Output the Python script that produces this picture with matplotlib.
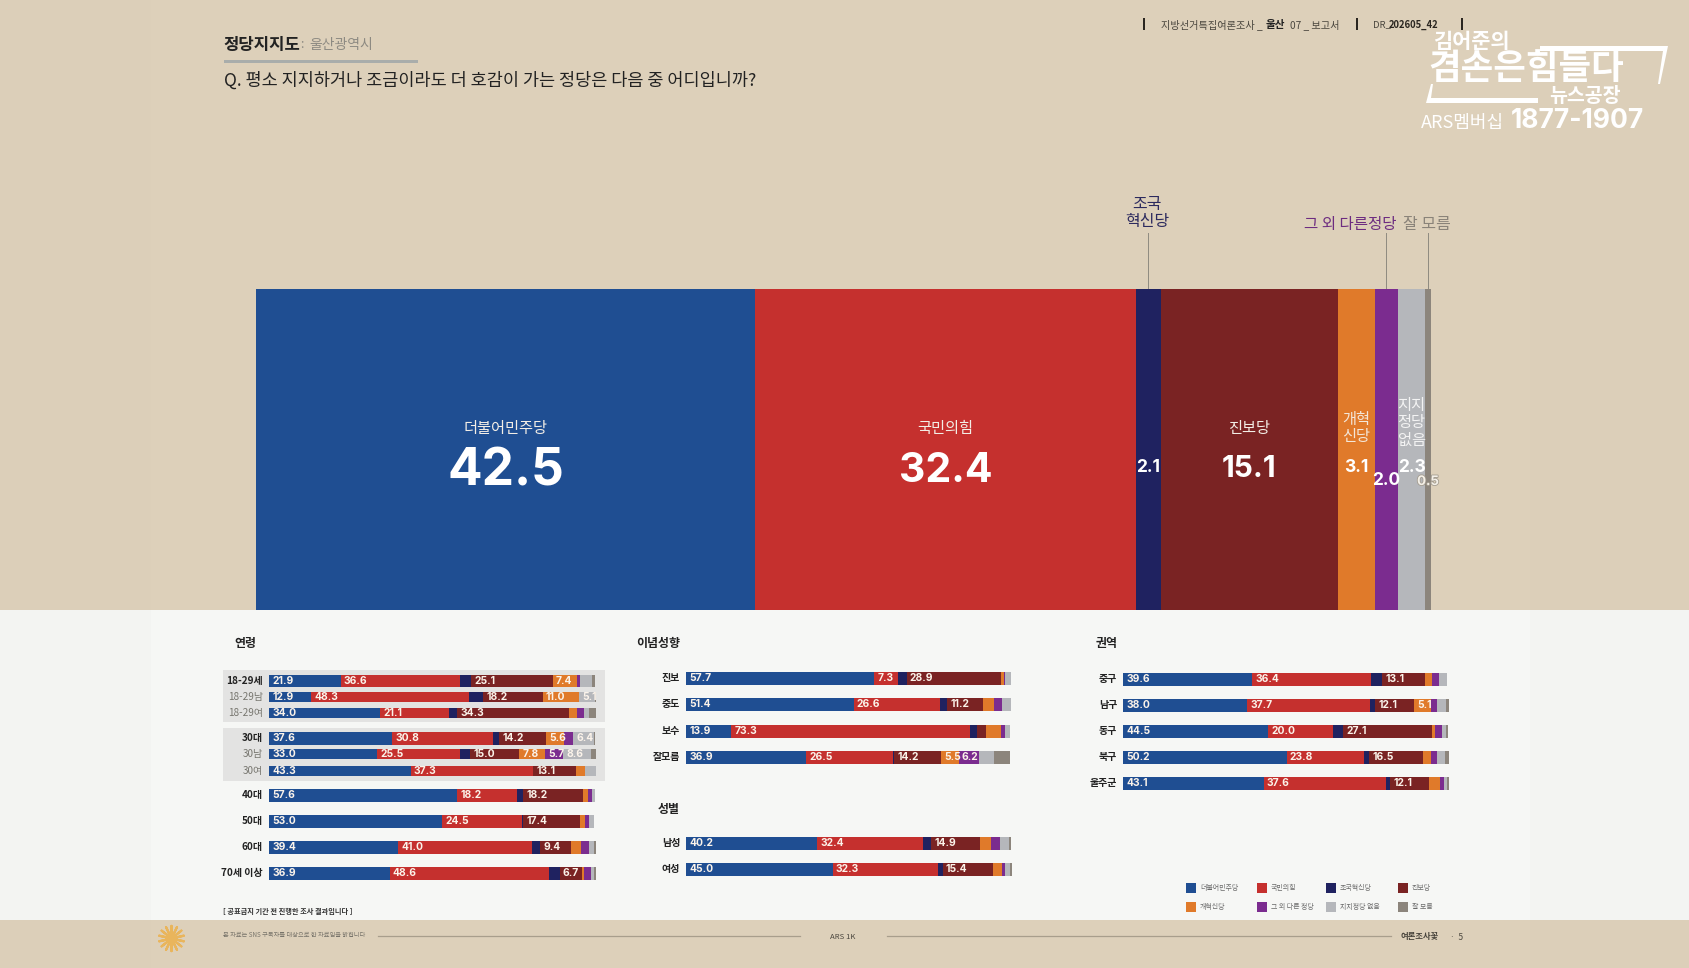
import matplotlib
matplotlib.use("Agg")
import matplotlib.pyplot as plt
import matplotlib.patheffects as pe
from matplotlib.patches import Rectangle, Polygon
import numpy as np

plt.rcParams['font.family'] = ['Noto Sans CJK KR', 'DejaVu Sans']

W, H = 1690, 968
NUM_FONT = ['Inter', 'DejaVu Sans']

parties = ["더불어민주당", "국민의힘", "조국혁신당", "진보당", "개혁신당", "그 외 다른 정당", "지지정당 없음", "잘 모름"]
colors = ["#1f4e92", "#c5302e", "#1f2260", "#7a2323", "#e07a2a", "#7b2c8f", "#b5b7bb", "#8c857c"]

total_values = [42.5, 32.4, 2.1, 15.1, 3.1, 2.0, 2.3, 0.5]

age_labels = ["18-29세", "18-29남", "18-29여", "30대", "30남", "30여", "40대", "50대", "60대", "70세 이상"]
age_values = [
    [21.9, 36.6, 3.2, 25.1, 7.4, 1.0, 3.5, 1.0],
    [12.9, 48.3, 4.3, 18.2, 11.0, 0.0, 5.1, 0.2],
    [34.0, 21.1, 2.4, 34.3, 2.5, 2.0, 1.7, 2.0],
    [37.6, 30.8, 2.0, 14.2, 5.6, 2.9, 6.4, 0.2],
    [33.0, 25.5, 3.0, 15.0, 7.8, 5.7, 8.6, 1.4],
    [43.3, 37.3, 0.1, 13.1, 2.9, 0.0, 3.2, 0.0],
    [57.6, 18.2, 2.0, 18.2, 1.5, 1.3, 0.8, 0.0],
    [53.0, 24.5, 0.3, 17.4, 1.5, 1.2, 1.6, 0.0],
    [39.4, 41.0, 2.6, 9.4, 2.9, 2.5, 1.6, 0.6],
    [36.9, 48.6, 3.4, 6.7, 0.8, 2.0, 1.0, 0.6],
]

ideology_labels = ["진보", "중도", "보수", "잘모름"]
ideology_values = [
    [57.7, 7.3, 2.7, 28.9, 0.8, 0.6, 1.8, 0.0],
    [51.4, 26.6, 2.0, 11.2, 3.4, 2.2, 3.0, 0.0],
    [13.9, 73.3, 2.2, 2.5, 4.7, 1.2, 1.6, 0.0],
    [36.9, 26.5, 0.5, 14.2, 5.5, 6.2, 4.8, 4.9],
]

gender_labels = ["남성", "여성"]
gender_values = [
    [40.2, 32.4, 2.7, 14.9, 3.4, 2.6, 3.0, 0.6],
    [45.0, 32.3, 1.4, 15.4, 2.8, 1.0, 1.4, 0.8],
]

region_labels = ["중구", "남구", "동구", "북구", "울주군"]
region_values = [
    [39.6, 36.4, 3.6, 13.1, 2.0, 2.3, 2.4, 0.0],
    [38.0, 37.7, 1.6, 12.1, 5.1, 1.9, 2.7, 0.8],
    [44.5, 20.0, 3.1, 27.1, 0.9, 2.4, 1.1, 0.7],
    [50.2, 23.8, 1.6, 16.5, 2.3, 1.9, 2.6, 1.0],
    [43.1, 37.6, 1.2, 12.1, 3.2, 1.2, 1.1, 0.4],
]

fig = plt.figure(figsize=(W / 100, H / 100), dpi=100, facecolor="#dccfb9")

# bottom layer in pixel coords, for the page and loose text
bg = fig.add_axes([0, 0, 1, 1])
bg.set_xlim(0, W)
bg.set_ylim(H, 0)
bg.axis("off")


def px_axes(x0, x1, y0, y1):
    ax = fig.add_axes([x0 / W, 1 - y1 / H, (x1 - x0) / W, (y1 - y0) / H])
    ax.set_ylim(y1, y0)
    ax.axis("off")
    return ax


def rect(x0, y0, x1, y1, color):
    bg.add_patch(Rectangle((x0, y0), x1 - x0, y1 - y0, color=color, lw=0))


def small_bars(x0, x1, labels, values, ys, heights, styles=None):
    ax = px_axes(x0, x1, min(ys) - 10, max(ys) + 10)
    ax.set_xlim(0, 100)
    values = np.array(values)
    left = np.zeros(len(labels))
    for j, c in enumerate(colors):
        ax.barh(ys, values[:, j], left=left, height=heights, color=c, lw=0)
        for i, v in enumerate(values[:, j]):
            if v >= 5:
                ax.text(left[i] + 1.0, ys[i] + 0.3, f"{v:.1f}", color="#fbf3ea", fontsize=7.4, family=NUM_FONT,
                        fontweight="bold", va="center", ha="left")
        left += values[:, j]
    for i, name in enumerate(labels):
        col, weight = ("#222222", "bold") if styles is None else styles[i]
        bg.text(x0 - 6, ys[i], name, ha="right", va="center", fontsize=7.2, color=col, fontweight=weight)


# page background
rect(151, 0, 1530, 610, "#ddd0ba")
rect(0, 610, W, 920, "#f3f4f2")
rect(151, 610, 1530, 920, "#f6f7f5")
rect(151, 920, 1530, H, "#ddd0ba")

# header
bg.text(223, 45, "정당지지도", fontsize=12, fontweight="bold", color="#222222", va="center")
bg.text(309, 45, "울산광역시", fontsize=10, color="#8d8a82", va="center")
bg.text(300, 44, ":", fontsize=9, color="#8d8a82", va="center")
rect(224, 60, 418, 63, "#a9adab")
bg.text(224, 81, "Q. 평소 지지하거나 조금이라도 더 호감이 가는 정당은 다음 중 어디입니까?", fontsize=12.6,
        fontweight="medium", color="#222222", va="center")

for x in [1144, 1357, 1462]:
    rect(x - 1, 18, x + 1.5, 30, "#2a2620")
bg.text(1161, 25, "지방선거특집여론조사 _", fontsize=7.3, color="#4a463e", va="center")
bg.text(1266, 25, "울산", fontsize=7.6, fontweight="bold", color="#222222", va="center")
bg.text(1290, 25, "07 _ 보고서", fontsize=7.3, color="#4a463e", va="center")
bg.text(1373, 25, "DR_", fontsize=6.8, color="#4a463e", va="center")
bg.text(1389, 25, "202605_42", fontsize=6.8, fontweight="bold", color="#2a2620", va="center")

# program logo top right
bg.text(1433, 42, "김어준의", fontsize=15, fontweight="bold", style="italic", color="white", va="center")
bg.text(1428, 68, "겸손은힘들다", fontsize=25.5, fontweight="bold", color="white", va="center")
bg.text(1549, 96, "뉴스공장", fontsize=14, fontweight="bold", color="white", va="center")
bg.text(1421, 123, "ARS멤버십", fontsize=13, color="white", va="center")
bg.text(1511, 121, "1877-1907", fontsize=19, family=NUM_FONT, fontweight="bold", color="white", va="center")
bg.add_patch(Polygon([(1540, 46), (1668, 46), (1660, 84), (1658, 84), (1663, 51), (1540, 51)], color="white", lw=0))
bg.add_patch(Polygon([(1426, 103), (1431, 84), (1433, 84), (1431, 98), (1538, 98), (1538, 103)], color="white", lw=0))

# big stacked bar
main = px_axes(256, 1431, 289, 610)
main.set_xlim(0, sum(total_values))
start = 0
main_centers = []
for v, c in zip(total_values, colors):
    main.barh(449.5, v, left=start, height=321, color=c, lw=0)
    main_centers.append(start + v / 2)
    start += v


def name_text(i, y, s, color="#f3eee6"):
    main.text(main_centers[i], y, s, color=color, fontsize=11, ha="center", va="center", linespacing=1.0)


def value_text(i, y, size, color="white"):
    return main.text(main_centers[i], y, f"{total_values[i]}", color=color, fontsize=size, family=NUM_FONT,
                     fontweight="bold", ha="center", va="center")


name_text(0, 429, "더불어민주당")
value_text(0, 472, 37)
name_text(1, 429, "국민의힘")
value_text(1, 471, 29.5)
value_text(2, 468, 12.5)
name_text(3, 429, "진보당")
value_text(3, 469, 21.5)
name_text(4, 428, "개혁\n신당", "#f3e6d8")
value_text(4, 468, 12.5)
value_text(5, 481, 12.5)
name_text(6, 423, "지지\n정당\n없음", "#f3f3f3")
value_text(6, 468, 12.5)
small_val = value_text(7, 482, 9.5, "#f4f0e8")
small_val.set_path_effects([pe.withStroke(linewidth=1.2, foreground="#a39c90")])

# callouts above the bar
for i in [2, 5, 7]:
    x = 256 + main_centers[i] * 1175 / sum(total_values)
    bg.plot([x, x], [233, 289], color="#8e8a80", lw=0.7)
bg.text(1147, 213, "조국\n혁신당", color="#2c2a5e", fontsize=11.5, fontweight="medium", ha="center", va="center", linespacing=1.0)
bg.text(1350, 224, "그 외 다른정당", color="#6d2c80", fontsize=11.2, fontweight="medium", ha="center", va="center")
bg.text(1427, 224, "잘 모름", color="#8a8379", fontsize=11.5, ha="center", va="center")

# grey bands behind the age subgroups
rect(223, 670, 605, 722, "#e3e3e2")
rect(223, 728, 605, 781, "#e3e3e2")

bg.text(245, 643, "연령", fontsize=8.6, fontweight="bold", color="#222222", ha="center", va="center")
bg.text(658, 643, "이념성향", fontsize=8.6, fontweight="bold", color="#222222", ha="center", va="center")
bg.text(669, 809, "성별", fontsize=8.6, fontweight="bold", color="#222222", ha="center", va="center")
bg.text(1107, 643, "권역", fontsize=8.6, fontweight="bold", color="#222222", ha="center", va="center")

main_row = ("#222222", "bold")
sub_row = ("#77766f", "normal")
small_bars(269, 596, age_labels, age_values,
           [681, 697, 713, 738, 754, 771, 795, 821, 847, 873],
           [12, 10, 10, 13, 10, 10, 13, 13, 13, 13],
           [main_row, sub_row, sub_row, main_row, sub_row, sub_row, main_row, main_row, main_row, main_row])
small_bars(686, 1012, ideology_labels, ideology_values, [678, 704, 731, 757], 13)
small_bars(686, 1012, gender_labels, gender_values, [843, 869], 13)
small_bars(1123, 1449, region_labels, region_values, [679, 705, 731, 757, 783], 13)

# legend
legend_x = [1186, 1257, 1326, 1398]
legend_y = [888, 907]
for k, (name, c) in enumerate(zip(parties, colors)):
    x = legend_x[k % 4]
    y = legend_y[k // 4]
    rect(x, y - 5, x + 10, y + 5, c)
    bg.text(x + 14, y, name, fontsize=5, color="#6a6a6a", va="center")

# footer
bg.text(223, 911, "[ 공표금지 기간 전 진행한 조사 결과입니다 ]", fontsize=5.2, fontweight="bold", color="#333333", va="center")
bg.text(223, 935, "본 자료는 SNS 구독자를 대상으로 한 자료임을 밝힙니다", fontsize=4.5, color="#77736a", va="center")
bg.plot([378, 800], [936, 936], color="#a89e8c", lw=0.9)
bg.plot([887, 1391], [936, 936], color="#a89e8c", lw=0.9)
bg.text(843, 937, "ARS 1K", fontsize=5.6, color="#4a463e", ha="center", va="center")
bg.text(1401, 937, "여론조사꽃", fontsize=6, fontweight="bold", color="#4a463e", va="center")
bg.text(1450, 937, "·  5", fontsize=6, color="#4a463e", va="center")
bg.scatter([171], [938], marker=(14, 2, 0), s=330, color="#e9b55c", linewidths=1.6)

fig.savefig("out.png", dpi=100, facecolor=fig.get_facecolor())
plt.close(fig)
